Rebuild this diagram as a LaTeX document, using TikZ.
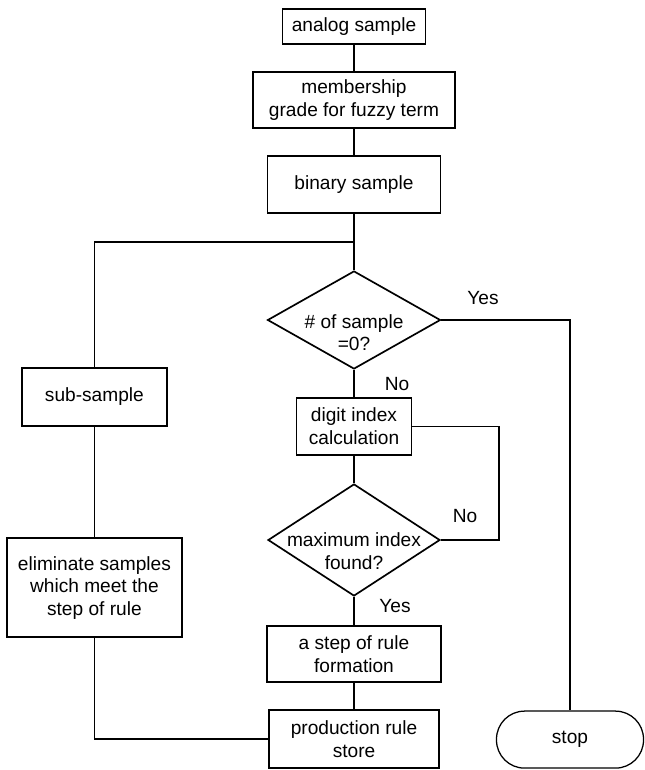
\documentclass[tikz,border=0pt]{standalone}
\usepackage{fontspec}
\setmainfont{Liberation Sans}
\usetikzlibrary{shapes.geometric}

\begin{document}
\begin{tikzpicture}[
    font=\fontsize{13.6}{16}\selectfont,
    line width=0.9pt,
    block/.style={draw, rectangle, align=center, inner sep=2pt},
    decision/.style={draw, diamond, line width=1.2pt, inner sep=0pt},
    terminal/.style={draw, rectangle, rounded corners=0.7cm, align=center},
    answer/.style={inner sep=1pt}
    ]
	\useasboundingbox (0,0) rectangle (16.1,-19.25);
	\node [block, minimum width=3.575cm, minimum height=0.875cm] (analog) at (8.85,-0.66) {analog sample};
	\node [block, minimum width=5.05cm, minimum height=1.4cm] (member) at (8.85,-2.5) {membership\\grade for fuzzy term};
	\node [block, minimum width=4.325cm, minimum height=1.425cm] (binary) at (8.85,-4.61) {binary sample};
	\coordinate (split) at (8.85,-6.05);
	\node [decision, minimum width=4.325cm, minimum height=2.45cm,
		label={[align=center, yshift=-0.32cm]center:{\# of sample\\=0?}}] (qempty) at (8.85,-8.0) {};
	\node [block, minimum width=3.625cm, minimum height=1.45cm] (subsample) at (2.36,-9.925) {sub-sample};
	\node [block, minimum width=2.875cm, minimum height=1.425cm] (digit) at (8.85,-10.66) {digit index\\calculation};
	\node [decision, minimum width=4.3cm, minimum height=2.8cm,
		label={[align=center, yshift=-0.28cm]center:{maximum index\\found?}}] (qmax) at (8.85,-13.5) {};
	\coordinate (loop) at (12.475,-12.0);
	\node [block, minimum width=4.375cm, minimum height=2.475cm] (elim) at (2.36,-14.69) {eliminate samples\\which meet the\\step of rule};
	\node [block, minimum width=4.35cm, minimum height=1.4cm] (rulestep) at (8.85,-16.35) {a step of rule\\formation};
	\node [block, minimum width=4.25cm, minimum height=1.45cm] (store) at (8.85,-18.475) {production rule\\store};
	\node [terminal, minimum width=3.675cm, minimum height=1.425cm] (stop) at (14.25,-18.49) {stop};

	\node [answer] (yes1) at (12.075,-7.45) {Yes};
	\node [answer] (no1) at (9.925,-9.6) {No};
	\node [answer] (no2) at (11.625,-12.9) {No};
	\node [answer] (yes2) at (9.875,-15.15) {Yes};

	\draw (analog) -- (member);
	\draw (member) -- (binary);
	\draw (binary) -- (qempty);
	\draw (split) -| (subsample);
	\draw (subsample) -- (elim);
	\draw (elim) |- (store);
	\draw (qempty) -- (digit);
	\draw (qempty.east) -| (stop);
	\draw (digit) -- (qmax);
	\draw (digit.east) -| (loop) |- (qmax.east);
	\draw (qmax) -- (rulestep);
	\draw (rulestep) -- (store);
  \end{tikzpicture}
\end{document}
